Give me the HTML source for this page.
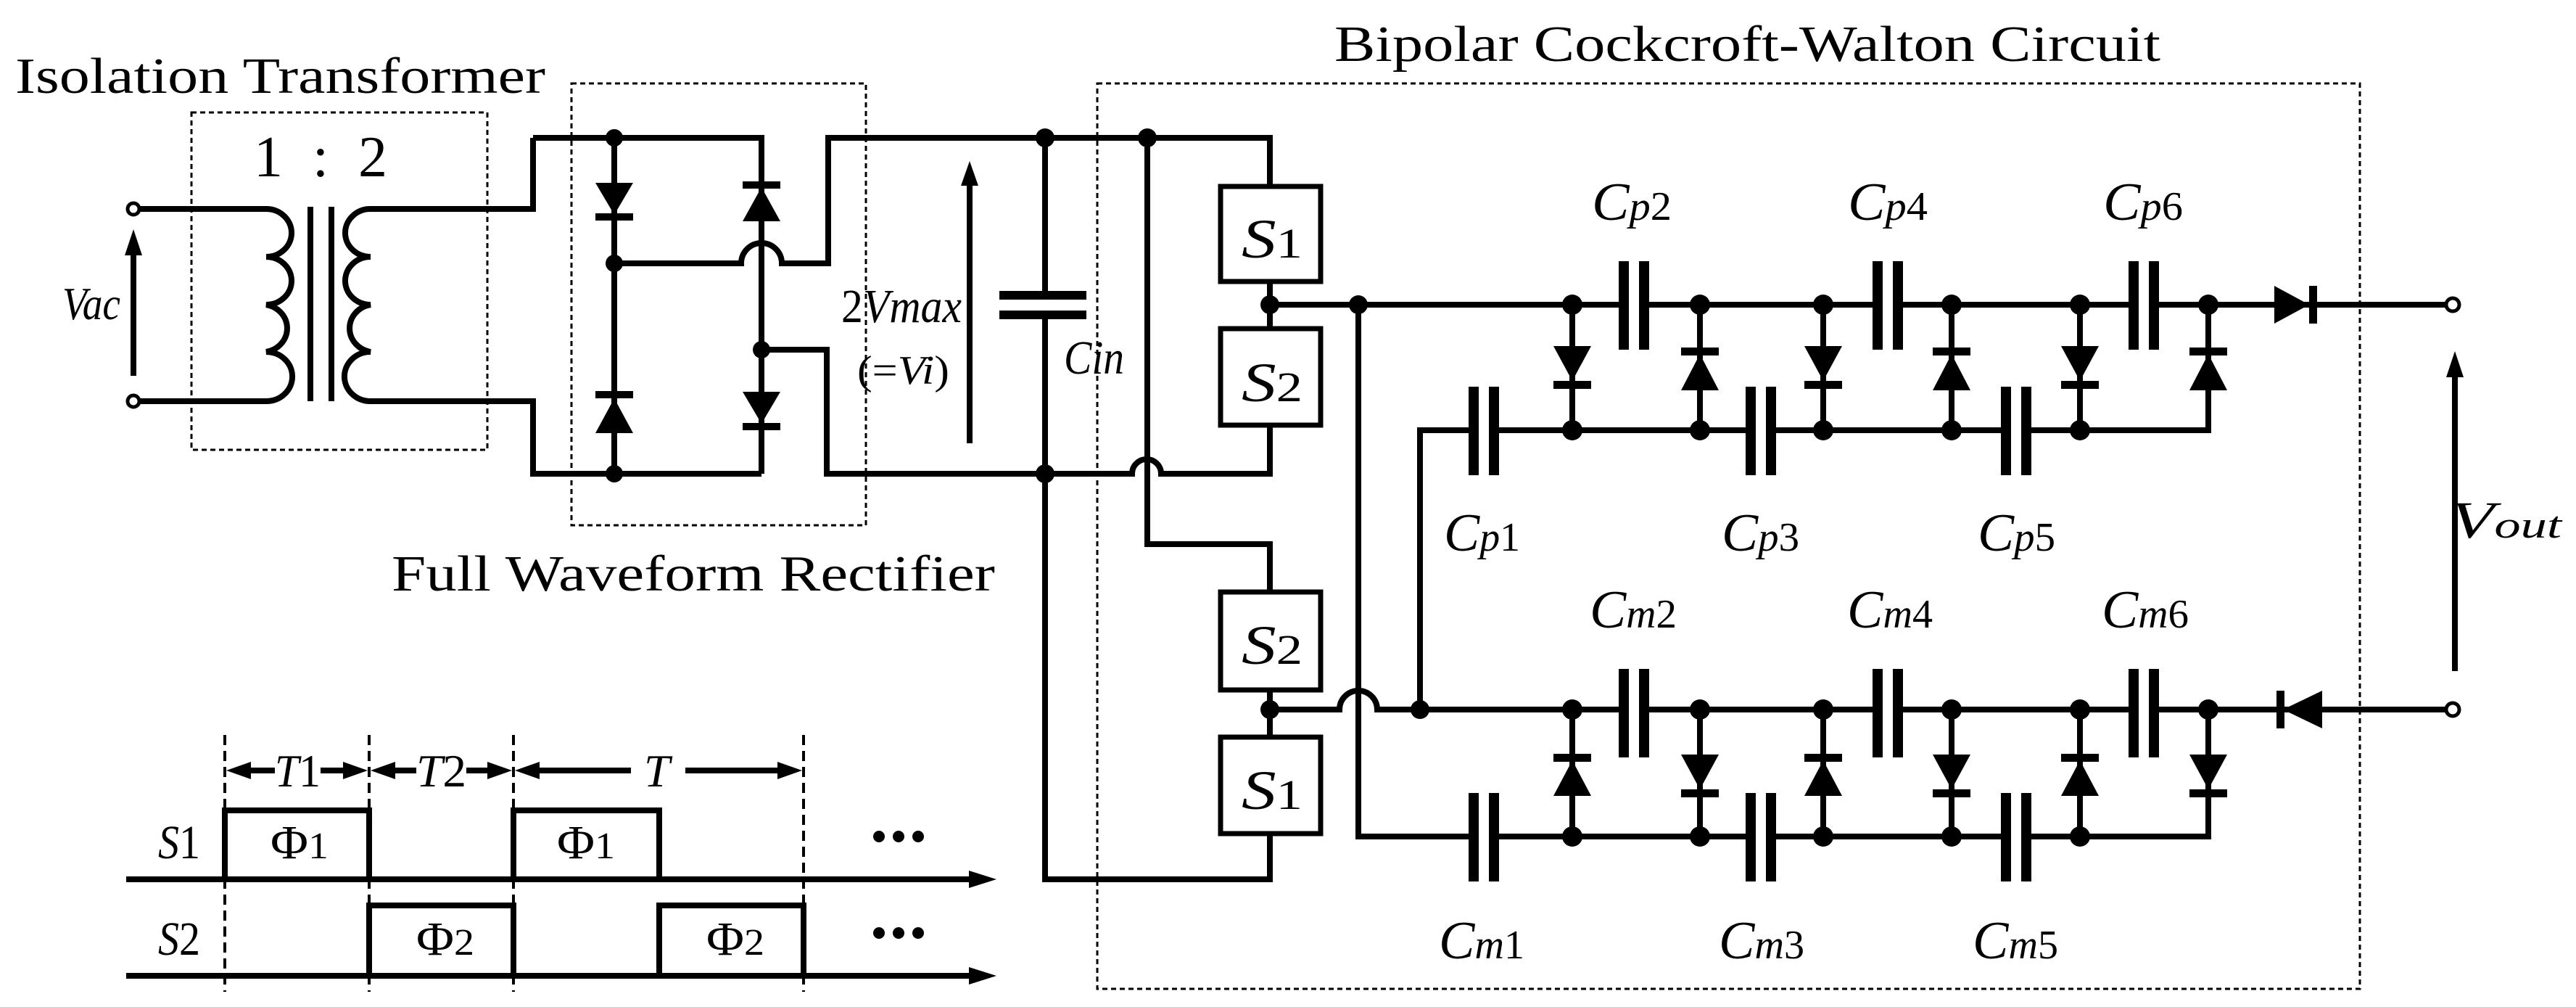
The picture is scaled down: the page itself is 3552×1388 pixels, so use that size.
<!DOCTYPE html>
<html><head><meta charset="utf-8"><style>
html,body{margin:0;padding:0;background:#fff;}
svg{display:block;}
text,tspan{font-family:"Liberation Serif","Times New Roman",Times,serif;fill:#000;}
.i{font-style:italic;}
</style></head><body>
<svg width="3552" height="1388" viewBox="0 0 3552 1388" xmlns="http://www.w3.org/2000/svg" font-family="Liberation Serif, Times New Roman, serif">
<g fill="none" stroke="#000" stroke-width="3" stroke-dasharray="7 5">
<rect x="264" y="155" width="408" height="465"/>
<rect x="788" y="115" width="406" height="609"/>
<rect x="1513" y="115" width="1741" height="1248"/>
</g>
<text x="21" y="128" font-size="70" textLength="731" lengthAdjust="spacingAndGlyphs">Isolation Transformer</text>
<text x="350" y="243" font-size="80" textLength="184" lengthAdjust="spacing">1 : 2</text>
<text x="540" y="814" font-size="70" textLength="832" lengthAdjust="spacingAndGlyphs">Full Waveform Rectifier</text>
<text x="1840" y="84" font-size="70" textLength="1139" lengthAdjust="spacingAndGlyphs">Bipolar Cockcroft-Walton Circuit</text>

<g fill="none" stroke="#000" stroke-width="8">
<path d="M192 288 H367 A35 33 0 0 1 367 354 A35 33 0 0 1 367 420 A35 33 0 0 1 367 485 A35 33 0 0 1 367 553 H192"/>
<path d="M735 190 V288 H511 A35 33 0 0 0 511 354 A35 33 0 0 0 511 420 A35 33 0 0 0 511 485 A35 33 0 0 0 511 553 H735 V653 H1050"/>
<path d="M735 190 H1050 V653"/>
<line x1="428" y1="285" x2="428" y2="553"/><line x1="457" y1="285" x2="457" y2="553"/>
<line x1="847" y1="190" x2="847" y2="653"/>
<path d="M847 363 H1022 A28 28 0 0 1 1078 363 H1142 V190 H1441"/>
<path d="M1050 482 H1140 V653 H1561 A20 20 0 0 1 1601 653 H1751 V586"/>
<path d="M1441 190 H1751 V257"/>
<line x1="1751" y1="388" x2="1751" y2="453"/>
<path d="M1441 190 V407 M1441 434 V1212 H1751 V1149"/>
<path d="M1582 190 V750 H1751 V816"/>
<line x1="1751" y1="951" x2="1751" y2="1016"/>
<line x1="1751" y1="420" x2="3382" y2="420"/>
<path d="M1958 978 V593 H3045 V540"/>
<path d="M1873 420 V1153 H3045 V1100"/>
<path d="M1751 978 H1847 A26 26 0 0 1 1899 978 H3382"/>
<g>
<line x1="2168" y1="420" x2="2168" y2="593"/><line x1="2344" y1="420" x2="2344" y2="593"/>
<line x1="2514" y1="420" x2="2514" y2="593"/><line x1="2691" y1="420" x2="2691" y2="593"/>
<line x1="2868" y1="420" x2="2868" y2="593"/><line x1="3045" y1="420" x2="3045" y2="593"/>
<line x1="2168" y1="978" x2="2168" y2="1153"/><line x1="2344" y1="978" x2="2344" y2="1153"/>
<line x1="2514" y1="978" x2="2514" y2="1153"/><line x1="2691" y1="978" x2="2691" y2="1153"/>
<line x1="2868" y1="978" x2="2868" y2="1153"/><line x1="3045" y1="978" x2="3045" y2="1153"/>
</g>
<line x1="184" y1="518" x2="184" y2="350"/>
<line x1="1337" y1="611" x2="1337" y2="250"/>
<line x1="3385" y1="925" x2="3385" y2="515"/>
<line x1="174" y1="1212" x2="1340" y2="1212"/>
<line x1="174" y1="1345" x2="1340" y2="1345"/>
<path d="M310 1212 V1117 H509 V1212 M708 1212 V1117 H909 V1212"/>
<path d="M509 1345 V1248 H708 V1345 M909 1345 V1248 H1108 V1345"/>
<path d="M330 1062 H379 M442 1062 H489 M529 1062 H574 M643 1062 H688 M728 1062 H870 M945 1062 H1088"/>
</g>
<g fill="#fff">
<rect x="2244" y="400" width="18" height="40"/><rect x="2594" y="400" width="18" height="40"/><rect x="2947" y="400" width="18" height="40"/>
<rect x="2037" y="573" width="18" height="40"/><rect x="2419" y="573" width="18" height="40"/><rect x="2771" y="573" width="18" height="40"/>
<rect x="2244" y="958" width="18" height="40"/><rect x="2594" y="958" width="18" height="40"/><rect x="2947" y="958" width="18" height="40"/>
<rect x="2037" y="1133" width="18" height="40"/><rect x="2419" y="1133" width="18" height="40"/><rect x="2771" y="1133" width="18" height="40"/>
</g>
<g fill="#000">
<rect x="2232" y="360" width="14" height="122"/><rect x="2260" y="360" width="14" height="122"/>
<rect x="2582" y="360" width="14" height="122"/><rect x="2610" y="360" width="14" height="122"/>
<rect x="2935" y="360" width="14" height="122"/><rect x="2963" y="360" width="14" height="122"/>
<rect x="2025" y="533" width="14" height="122"/><rect x="2053" y="533" width="14" height="122"/>
<rect x="2407" y="533" width="14" height="122"/><rect x="2435" y="533" width="14" height="122"/>
<rect x="2759" y="533" width="14" height="122"/><rect x="2787" y="533" width="14" height="122"/>
<rect x="2232" y="922" width="14" height="122"/><rect x="2260" y="922" width="14" height="122"/>
<rect x="2582" y="922" width="14" height="122"/><rect x="2610" y="922" width="14" height="122"/>
<rect x="2935" y="922" width="14" height="122"/><rect x="2963" y="922" width="14" height="122"/>
<rect x="2025" y="1093" width="14" height="122"/><rect x="2053" y="1093" width="14" height="122"/>
<rect x="2407" y="1093" width="14" height="122"/><rect x="2435" y="1093" width="14" height="122"/>
<rect x="2759" y="1093" width="14" height="122"/><rect x="2787" y="1093" width="14" height="122"/>
<rect x="1378" y="401" width="120" height="12"/><rect x="1378" y="428" width="120" height="12"/>
<polygon points="821,252 873,252 847,296"/><rect x="821" y="294" width="52" height="10"/>
<rect x="821" y="539" width="52" height="10"/><polygon points="821,597 873,597 847,549"/>
<rect x="1024" y="250" width="52" height="10"/><polygon points="1024,305 1076,305 1050,258"/>
<polygon points="1024,540 1076,540 1050,584"/><rect x="1024" y="583" width="52" height="10"/>
<polygon points="2142,477 2194,477 2168,525"/><rect x="2142" y="525" width="52" height="11"/>
<rect x="2318" y="479" width="52" height="11"/><polygon points="2318,538 2370,538 2344,488"/>
<polygon points="2488,477 2540,477 2514,525"/><rect x="2488" y="525" width="52" height="11"/>
<rect x="2665" y="479" width="52" height="11"/><polygon points="2665,538 2717,538 2691,488"/>
<polygon points="2842,477 2894,477 2868,525"/><rect x="2842" y="525" width="52" height="11"/>
<rect x="3019" y="479" width="52" height="11"/><polygon points="3019,538 3071,538 3045,488"/>
<rect x="2142" y="1039" width="52" height="11"/><polygon points="2142,1097 2194,1097 2168,1048"/>
<polygon points="2318,1040 2370,1040 2344,1088"/><rect x="2318" y="1088" width="52" height="11"/>
<rect x="2488" y="1039" width="52" height="11"/><polygon points="2488,1097 2540,1097 2514,1048"/>
<polygon points="2665,1040 2717,1040 2691,1088"/><rect x="2665" y="1088" width="52" height="11"/>
<rect x="2842" y="1039" width="52" height="11"/><polygon points="2842,1097 2894,1097 2868,1048"/>
<polygon points="3019,1040 3071,1040 3045,1088"/><rect x="3019" y="1088" width="52" height="11"/>
<polygon points="3136,394 3136,446 3184,420"/><rect x="3184" y="394" width="11" height="52"/>
<rect x="3139" y="952" width="11" height="52"/><polygon points="3202,952 3202,1004 3148,978"/>
<polygon points="172,352 196,352 184,316"/>
<polygon points="1325,256 1349,256 1337,222"/>
<polygon points="3373,520 3397,520 3385,484"/>
<polygon points="1336,1200 1336,1224 1374,1212"/>
<polygon points="1336,1333 1336,1357 1374,1345"/>
<polygon points="312,1062 346,1050 346,1074"/><polygon points="507,1062 473,1050 473,1074"/>
<polygon points="511,1062 545,1050 545,1074"/><polygon points="706,1062 672,1050 672,1074"/>
<polygon points="710,1062 744,1050 744,1074"/><polygon points="1106,1062 1072,1050 1072,1074"/>
<circle cx="847" cy="190" r="12"/><circle cx="847" cy="363" r="12"/><circle cx="847" cy="653" r="12"/>
<circle cx="1050" cy="482" r="12"/>
<circle cx="1441" cy="190" r="13"/><circle cx="1582" cy="190" r="13"/><circle cx="1441" cy="653" r="13"/>
<circle cx="1751" cy="420" r="13"/><circle cx="1873" cy="420" r="13"/><circle cx="1751" cy="978" r="13"/><circle cx="1958" cy="978" r="13"/>
<circle cx="2168" cy="420" r="14"/><circle cx="2344" cy="420" r="14"/><circle cx="2514" cy="420" r="14"/><circle cx="2691" cy="420" r="14"/><circle cx="2868" cy="420" r="14"/><circle cx="3045" cy="420" r="14"/>
<circle cx="2168" cy="593" r="14"/><circle cx="2344" cy="593" r="14"/><circle cx="2514" cy="593" r="14"/><circle cx="2691" cy="593" r="14"/><circle cx="2868" cy="593" r="14"/>
<circle cx="2168" cy="978" r="14"/><circle cx="2344" cy="978" r="14"/><circle cx="2514" cy="978" r="14"/><circle cx="2691" cy="978" r="14"/><circle cx="2868" cy="978" r="14"/><circle cx="3045" cy="978" r="14"/>
<circle cx="2168" cy="1153" r="14"/><circle cx="2344" cy="1153" r="14"/><circle cx="2514" cy="1153" r="14"/><circle cx="2691" cy="1153" r="14"/><circle cx="2868" cy="1153" r="14"/>
</g>
<g fill="#fff" stroke="#000" stroke-width="7">
<rect x="1683" y="257" width="138" height="131"/>
<rect x="1683" y="453" width="138" height="133"/>
<rect x="1683" y="816" width="138" height="135"/>
<rect x="1683" y="1016" width="138" height="133"/>
<circle cx="184" cy="288" r="8" stroke-width="5"/><circle cx="184" cy="553" r="8" stroke-width="5"/>
<circle cx="3382" cy="420" r="9" stroke-width="5"/><circle cx="3382" cy="978" r="9" stroke-width="5"/>
</g>
<g fill="none" stroke="#000" stroke-width="4" stroke-dasharray="14 8">
<line x1="310" y1="1013" x2="310" y2="1367"/><line x1="509" y1="1013" x2="509" y2="1367"/>
<line x1="708" y1="1013" x2="708" y2="1367"/><line x1="1108" y1="1013" x2="1108" y2="1367"/>
</g>
<g font-size="76">
<text x="1712" y="355" textLength="84" lengthAdjust="spacingAndGlyphs"><tspan class="i">S</tspan><tspan font-size="58">1</tspan></text>
<text x="1712" y="553" textLength="84" lengthAdjust="spacingAndGlyphs"><tspan class="i">S</tspan><tspan font-size="58">2</tspan></text>
<text x="1712" y="915" textLength="84" lengthAdjust="spacingAndGlyphs"><tspan class="i">S</tspan><tspan font-size="58">2</tspan></text>
<text x="1712" y="1115" textLength="84" lengthAdjust="spacingAndGlyphs"><tspan class="i">S</tspan><tspan font-size="58">1</tspan></text>
<text x="86" y="440" class="i" font-size="64" textLength="80" lengthAdjust="spacingAndGlyphs">Vac</text>
<text x="1160" y="444" font-size="66" textLength="166" lengthAdjust="spacingAndGlyphs">2<tspan class="i">Vmax</tspan></text>
<text x="1182" y="529" font-size="56" textLength="127" lengthAdjust="spacingAndGlyphs">(=<tspan class="i">Vi</tspan>)</text>
<text x="1467" y="515" class="i" font-size="66" textLength="83" lengthAdjust="spacingAndGlyphs">Cin</text>
<text x="3378" y="741" class="i" font-size="72" textLength="154" lengthAdjust="spacingAndGlyphs">V<tspan font-size="52">out</tspan></text>
<g font-size="74">
<text x="2195" y="303" textLength="110" lengthAdjust="spacingAndGlyphs"><tspan class="i">C</tspan><tspan class="i" font-size="56">p</tspan><tspan font-size="56">2</tspan></text>
<text x="2548" y="303" textLength="110" lengthAdjust="spacingAndGlyphs"><tspan class="i">C</tspan><tspan class="i" font-size="56">p</tspan><tspan font-size="56">4</tspan></text>
<text x="2900" y="303" textLength="110" lengthAdjust="spacingAndGlyphs"><tspan class="i">C</tspan><tspan class="i" font-size="56">p</tspan><tspan font-size="56">6</tspan></text>
<text x="1991" y="759" textLength="105" lengthAdjust="spacingAndGlyphs"><tspan class="i">C</tspan><tspan class="i" font-size="56">p</tspan><tspan font-size="56">1</tspan></text>
<text x="2374" y="759" textLength="107" lengthAdjust="spacingAndGlyphs"><tspan class="i">C</tspan><tspan class="i" font-size="56">p</tspan><tspan font-size="56">3</tspan></text>
<text x="2727" y="759" textLength="107" lengthAdjust="spacingAndGlyphs"><tspan class="i">C</tspan><tspan class="i" font-size="56">p</tspan><tspan font-size="56">5</tspan></text>
<text x="2192" y="865" textLength="120" lengthAdjust="spacingAndGlyphs"><tspan class="i">C</tspan><tspan class="i" font-size="56">m</tspan><tspan font-size="56">2</tspan></text>
<text x="2547" y="865" textLength="118" lengthAdjust="spacingAndGlyphs"><tspan class="i">C</tspan><tspan class="i" font-size="56">m</tspan><tspan font-size="56">4</tspan></text>
<text x="2898" y="865" textLength="120" lengthAdjust="spacingAndGlyphs"><tspan class="i">C</tspan><tspan class="i" font-size="56">m</tspan><tspan font-size="56">6</tspan></text>
<text x="1984" y="1321" textLength="118" lengthAdjust="spacingAndGlyphs"><tspan class="i">C</tspan><tspan class="i" font-size="56">m</tspan><tspan font-size="56">1</tspan></text>
<text x="2370" y="1321" textLength="118" lengthAdjust="spacingAndGlyphs"><tspan class="i">C</tspan><tspan class="i" font-size="56">m</tspan><tspan font-size="56">3</tspan></text>
<text x="2720" y="1321" textLength="118" lengthAdjust="spacingAndGlyphs"><tspan class="i">C</tspan><tspan class="i" font-size="56">m</tspan><tspan font-size="56">5</tspan></text>
</g>
<text x="218" y="1183" font-size="66" textLength="58" lengthAdjust="spacingAndGlyphs"><tspan class="i">S</tspan>1</text>
<text x="218" y="1316" font-size="66" textLength="58" lengthAdjust="spacingAndGlyphs"><tspan class="i">S</tspan>2</text>
<text x="379" y="1084" font-size="64" textLength="63" lengthAdjust="spacingAndGlyphs"><tspan class="i">T</tspan>1</text>
<text x="574" y="1084" font-size="64" textLength="69" lengthAdjust="spacingAndGlyphs"><tspan class="i">T</tspan>2</text>
<text x="888" y="1084" font-size="64" class="i">T</text>
<text x="373" y="1183" font-size="66" textLength="80" lengthAdjust="spacingAndGlyphs">Φ<tspan font-size="52">1</tspan></text>
<text x="768" y="1183" font-size="66" textLength="80" lengthAdjust="spacingAndGlyphs">Φ<tspan font-size="52">1</tspan></text>
<text x="574" y="1316" font-size="66" textLength="80" lengthAdjust="spacingAndGlyphs">Φ<tspan font-size="52">2</tspan></text>
<text x="974" y="1316" font-size="66" textLength="80" lengthAdjust="spacingAndGlyphs">Φ<tspan font-size="52">2</tspan></text>
</g>
<g fill="#000">
<circle cx="1212" cy="1153" r="8"/><circle cx="1239" cy="1153" r="8"/><circle cx="1266" cy="1153" r="8"/>
<circle cx="1212" cy="1286" r="8"/><circle cx="1239" cy="1286" r="8"/><circle cx="1266" cy="1286" r="8"/>
</g>
</svg>
</body></html>
